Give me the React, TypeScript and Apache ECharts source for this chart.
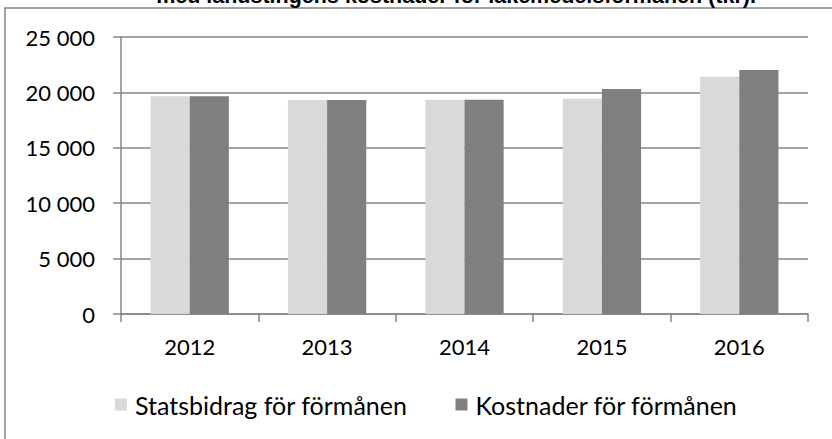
import React, { useEffect, useRef } from "react";
import * as echarts from "echarts";

const years = ["2012", "2013", "2014", "2015", "2016"];
const statsbidrag = [19650, 19320, 19340, 19430, 21420];
const kostnader = [19650, 19320, 19340, 20310, 22020];
const seriesNames = ["Statsbidrag för förmånen", "Kostnader för förmånen"];
const titleText = "med landstingens kostnader för läkemedelsförmånen (tkr).";

const FONT = "Lato, 'Noto Sans', sans-serif";

export default function App() {
  const ref = useRef<HTMLDivElement>(null);
  useEffect(() => {
    if (!ref.current) return;
    const chart = echarts.init(ref.current, null, { renderer: "svg" });
    chart.setOption({
      animation: false,
      backgroundColor: "#ffffff",
      textStyle: { fontFamily: FONT },
      graphic: [
        {
          type: "rect",
          shape: { x: 5, y: 8, width: 900, height: 600 },
          style: { fill: "none", stroke: "#868686", lineWidth: 1.5 },
          silent: true,
        },
        {
          type: "text",
          x: 456,
          y: 7,
          style: {
            text: titleText,
            fontFamily: "'Liberation Sans', Arial, sans-serif",
            fontSize: 21.5,
            fontWeight: "bold",
            fill: "#000",
            align: "center",
            verticalAlign: "bottom",
          },
        },
      ],
      grid: { left: 121, right: 24, top: 37, bottom: 125 },
      legend: {
        data: seriesNames,
        left: 115,
        top: 392,
        padding: 0,
        itemWidth: 12,
        itemHeight: 12,
        itemGap: 48,
        icon: "rect",
        textStyle: {
          fontFamily: FONT,
          fontSize: 25,
          lineHeight: 25,
          color: "#000",
          padding: [0, 0, 0, 3],
        },
      },
      xAxis: {
        type: "category",
        data: years,
        axisLine: { lineStyle: { color: "#868686", width: 1.5 } },
        axisTick: { show: true, length: 8, alignWithLabel: false, lineStyle: { color: "#868686", width: 1.5 } },
        axisLabel: { fontFamily: FONT, fontSize: 22, color: "#000", margin: 21 },
      },
      yAxis: {
        type: "value",
        min: 0,
        max: 25000,
        interval: 5000,
        axisLine: { show: true, lineStyle: { color: "#868686", width: 1.5 } },
        axisTick: { show: true, length: 8, lineStyle: { color: "#868686", width: 1.5 } },
        splitLine: { show: true, lineStyle: { color: "#868686", width: 1.5 } },
        axisLabel: {
          fontFamily: FONT,
          fontSize: 22,
          color: "#000",
          margin: 26,
          formatter: (v: number) => {
            if (v === 0) return "0";
            const s = String(v);
            return s.slice(0, s.length - 3) + " " + s.slice(-3);
          },
        },
      },
      series: [
        {
          name: seriesNames[0],
          type: "bar",
          data: statsbidrag,
          barGap: "0%",
          barCategoryGap: "43%",
          itemStyle: { color: "#d9d9d9" },
        },
        {
          name: seriesNames[1],
          type: "bar",
          data: kostnader,
          barGap: "0%",
          barCategoryGap: "43%",
          itemStyle: { color: "#7f7f7f" },
        },
      ],
    });
    return () => chart.dispose();
  }, []);
  return (
    <div
      ref={ref}
      style={{ position: "fixed", left: 0, top: 0, width: 832, height: 439 }}
    />
  );
}
